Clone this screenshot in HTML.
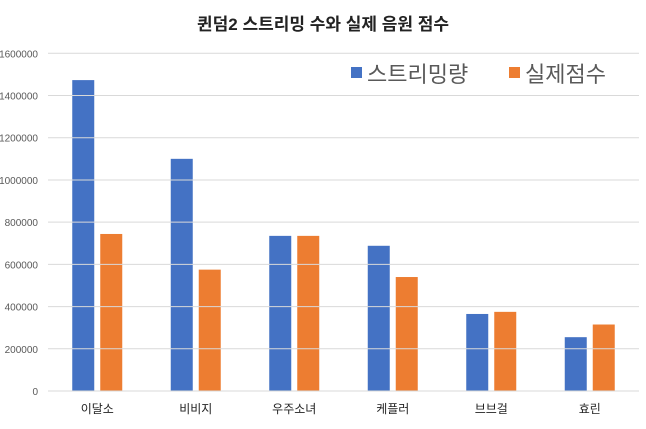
<!DOCTYPE html>
<html><head><meta charset="utf-8"><style>
body{margin:0;background:#fff;font-family:"Liberation Sans","Noto Sans CJK KR",sans-serif}
</style></head><body>
<svg id="c" width="646" height="424" xmlns="http://www.w3.org/2000/svg">
<text x="323" y="30" text-anchor="middle" font-size="17" font-weight="bold" fill="#222" font-family="Liberation Sans, Noto Sans CJK KR, sans-serif">퀸덤2 스트리밍 수와 실제 음원 점수</text>
<g>
<rect x="351" y="67" width="11" height="11" fill="#4472C4"/>
<text x="367" y="82" font-size="22" fill="#595959" font-family="Liberation Sans, Noto Sans CJK KR, sans-serif">스트리밍량</text>
<rect x="509" y="67" width="11" height="11" fill="#ED7D31"/>
<text x="525" y="82" font-size="22" fill="#595959" font-family="Liberation Sans, Noto Sans CJK KR, sans-serif">실제점수</text>
</g>
</svg>
<script>
const categories=["이달소","비비지","우주소녀","케플러","브브걸","효린"];
const streaming=[1473000,1100000,735000,688000,365000,255000];
const score=[744000,575000,735000,540000,375000,315000];
const ticks=[0,200000,400000,600000,800000,1000000,1200000,1400000,1600000];
const NS="http://www.w3.org/2000/svg";
const svg=document.getElementById('c');
const x0=48,x1=639,y0=391,yTop=53.3,maxV=1600000;
const y=v=>y0-(v/maxV)*(y0-yTop);
const bw=(x1-x0)/categories.length;
function mk(t,a){const e=document.createElementNS(NS,t);for(const k in a)e.setAttribute(k,a[k]);svg.insertBefore(e,svg.firstChild.nextSibling);return e;}
ticks.forEach(t=>{
 const l=mk('line',{x1:x0,x2:x1,y1:y(t),y2:y(t),stroke:'#d9d9d9','stroke-width':1});
 
 
 const tx=mk('text',{x:38,y:y(t)+4,'text-anchor':'end','font-size':10,fill:'#595959'});
 tx.textContent=t;
 
 
});
categories.forEach((c,i)=>{
 const cx=x0+bw*(i+0.5);
 const b1=mk('rect',{x:cx-25,y:y(streaming[i]),width:22,height:y0-y(streaming[i]),fill:'#4472C4'});
 
 
 const b2=mk('rect',{x:cx+3,y:y(score[i]),width:22,height:y0-y(score[i]),fill:'#ED7D31'});
 
 
 const t=mk('text',{x:cx,y:413,'text-anchor':'middle','font-size':12,fill:'#222'});
 t.textContent=c;
 
 
});
</script>
</body></html>
